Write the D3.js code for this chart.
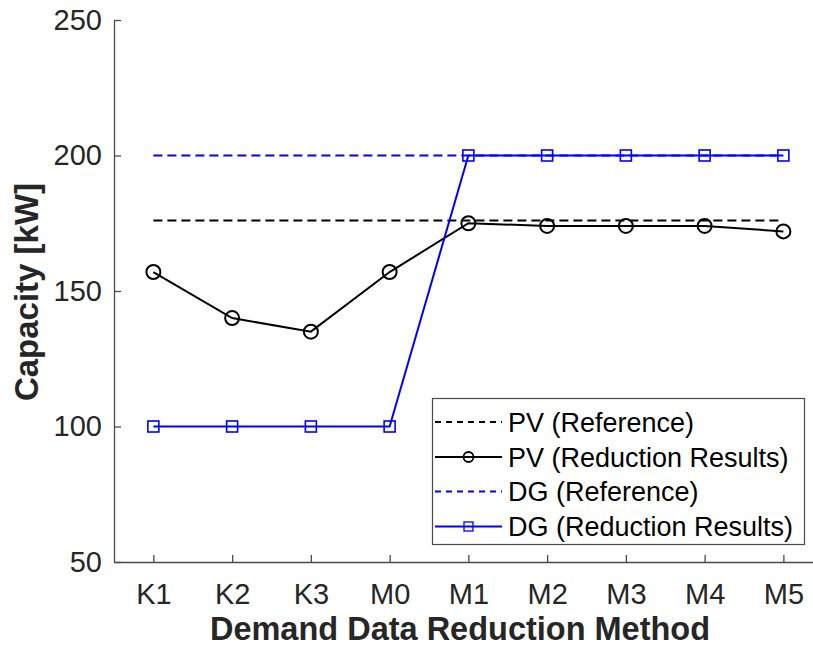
<!DOCTYPE html>
<html><head><meta charset="utf-8">
<script src="https://cdn.jsdelivr.net/npm/d3@7"></script>
<style>body{margin:0;background:#fff}svg{display:block;font-family:"Liberation Sans",Arial,sans-serif}</style>
</head><body>
<svg id="c" width="813" height="653"></svg>
<script>
const categories = ["K1","K2","K3","M0","M1","M2","M3","M4","M5"];
const pvReference = 176;
const pvResults = [157,140,135,157,175,174,174,174,172];
const dgReference = 200;
const dgResults = [100,100,100,100,200,200,200,200,200];
const yTicks = [50,100,150,200,250];
const legendLabels = ["PV (Reference)","PV (Reduction Results)","DG (Reference)","DG (Reduction Results)"];

const svg = d3.select("#c");
const L = 114, T = 20, B = 562;
const step = 78.75;
const x = d3.scaleLinear().domain([0.5, 9.5]).range([L, L + 9*step]);
const y = d3.scaleLinear().domain([50, 250]).range([B, T]);
const axisColor = "#4a4a4a";
const FONT = "Liberation Sans, Arial, sans-serif";

// y axis
const ya = svg.append("g").attr("transform",`translate(${L},0)`)
  .call(d3.axisLeft(y).tickValues(yTicks).tickSizeInner(-7).tickSizeOuter(0).tickPadding(12));
ya.select(".domain").attr("stroke",axisColor).attr("stroke-width",1.3);
ya.selectAll(".tick line").attr("stroke",axisColor).attr("stroke-width",1.3);
ya.selectAll(".tick text").attr("font-size",29).attr("fill","#262626").attr("font-family",FONT);

// x axis
const xa = svg.append("g").attr("transform",`translate(0,${B})`)
  .call(d3.axisBottom(x).tickValues(d3.range(1,10)).tickFormat(i=>categories[i-1]).tickSizeInner(-7).tickSizeOuter(0).tickPadding(21));
xa.select(".domain").attr("stroke",axisColor).attr("stroke-width",1.3);
xa.selectAll(".tick line").attr("stroke",axisColor).attr("stroke-width",1.3);
xa.selectAll(".tick text").attr("font-size",29).attr("fill","#262626").attr("font-family",FONT);

// labels
svg.append("text").attr("x",460).attr("y",640).attr("text-anchor","middle").attr("font-family",FONT)
  .attr("font-size",32.5).attr("font-weight","bold").attr("fill","#262626").text("Demand Data Reduction Method");
svg.append("text").attr("transform","translate(38,292) rotate(-90)").attr("text-anchor","middle").attr("font-family",FONT)
  .attr("font-size",33).attr("font-weight","bold").attr("fill","#262626").text("Capacity [kW]");

const idx = d3.range(1,10);
const line = d3.line().x(d=>x(d[0])).y(d=>y(d[1]));

// reference lines
svg.append("path").attr("d",line([[1,pvReference],[9,pvReference]])).attr("fill","none")
  .attr("stroke","#000").attr("stroke-width",2).attr("stroke-dasharray","9,5");
svg.append("path").attr("d",line([[1,dgReference],[9,dgReference]])).attr("fill","none")
  .attr("stroke","#0000ff").attr("stroke-width",2).attr("stroke-dasharray","9,5");

// PV results
svg.append("path").attr("d",line(idx.map((i,k)=>[i,pvResults[k]]))).attr("fill","none")
  .attr("stroke","#000").attr("stroke-width",2);
svg.append("g").selectAll("circle").data(pvResults).join("circle")
  .attr("cx",(d,k)=>x(k+1)).attr("cy",d=>y(d)).attr("r",7)
  .attr("fill","none").attr("stroke","#000").attr("stroke-width",2);

// DG results
svg.append("path").attr("d",line(idx.map((i,k)=>[i,dgResults[k]]))).attr("fill","none")
  .attr("stroke","#0000ff").attr("stroke-width",2);
svg.append("g").selectAll("rect").data(dgResults).join("rect")
  .attr("x",(d,k)=>x(k+1)-5.5).attr("y",d=>y(d)-5.5).attr("width",11).attr("height",11)
  .attr("fill","none").attr("stroke","#0000ff").attr("stroke-width",1.6);

// legend
const lg = svg.append("g");
lg.append("rect").attr("x",432.5).attr("y",398.5).attr("width",372).attr("height",146)
  .attr("fill","#fff").attr("stroke","#4a4a4a").attr("stroke-width",1.2);
const rows = [422,457,491.5,526.5];
const styles = [
  {c:"#000",dash:"6,5",m:null},
  {c:"#000",dash:null,m:"circle"},
  {c:"#0000ff",dash:"6,5",m:null},
  {c:"#0000ff",dash:null,m:"square"}];
rows.forEach((ry,i)=>{
  const s = styles[i];
  lg.append("line").attr("x1",435).attr("x2",502).attr("y1",ry).attr("y2",ry)
    .attr("stroke",s.c).attr("stroke-width",2).attr("stroke-dasharray",s.dash);
  if(s.m==="circle") lg.append("circle").attr("cx",468.5).attr("cy",ry).attr("r",5).attr("fill","none").attr("stroke",s.c).attr("stroke-width",1.8);
  if(s.m==="square") lg.append("rect").attr("x",464).attr("y",ry-4.5).attr("width",9).attr("height",9).attr("fill","none").attr("stroke",s.c).attr("stroke-width",1.3);
  lg.append("text").attr("x",508).attr("y",ry).attr("dy","0.36em").attr("font-family",FONT).attr("font-size",27).attr("fill","#000").text(legendLabels[i]);
});
</script>
</body></html>
